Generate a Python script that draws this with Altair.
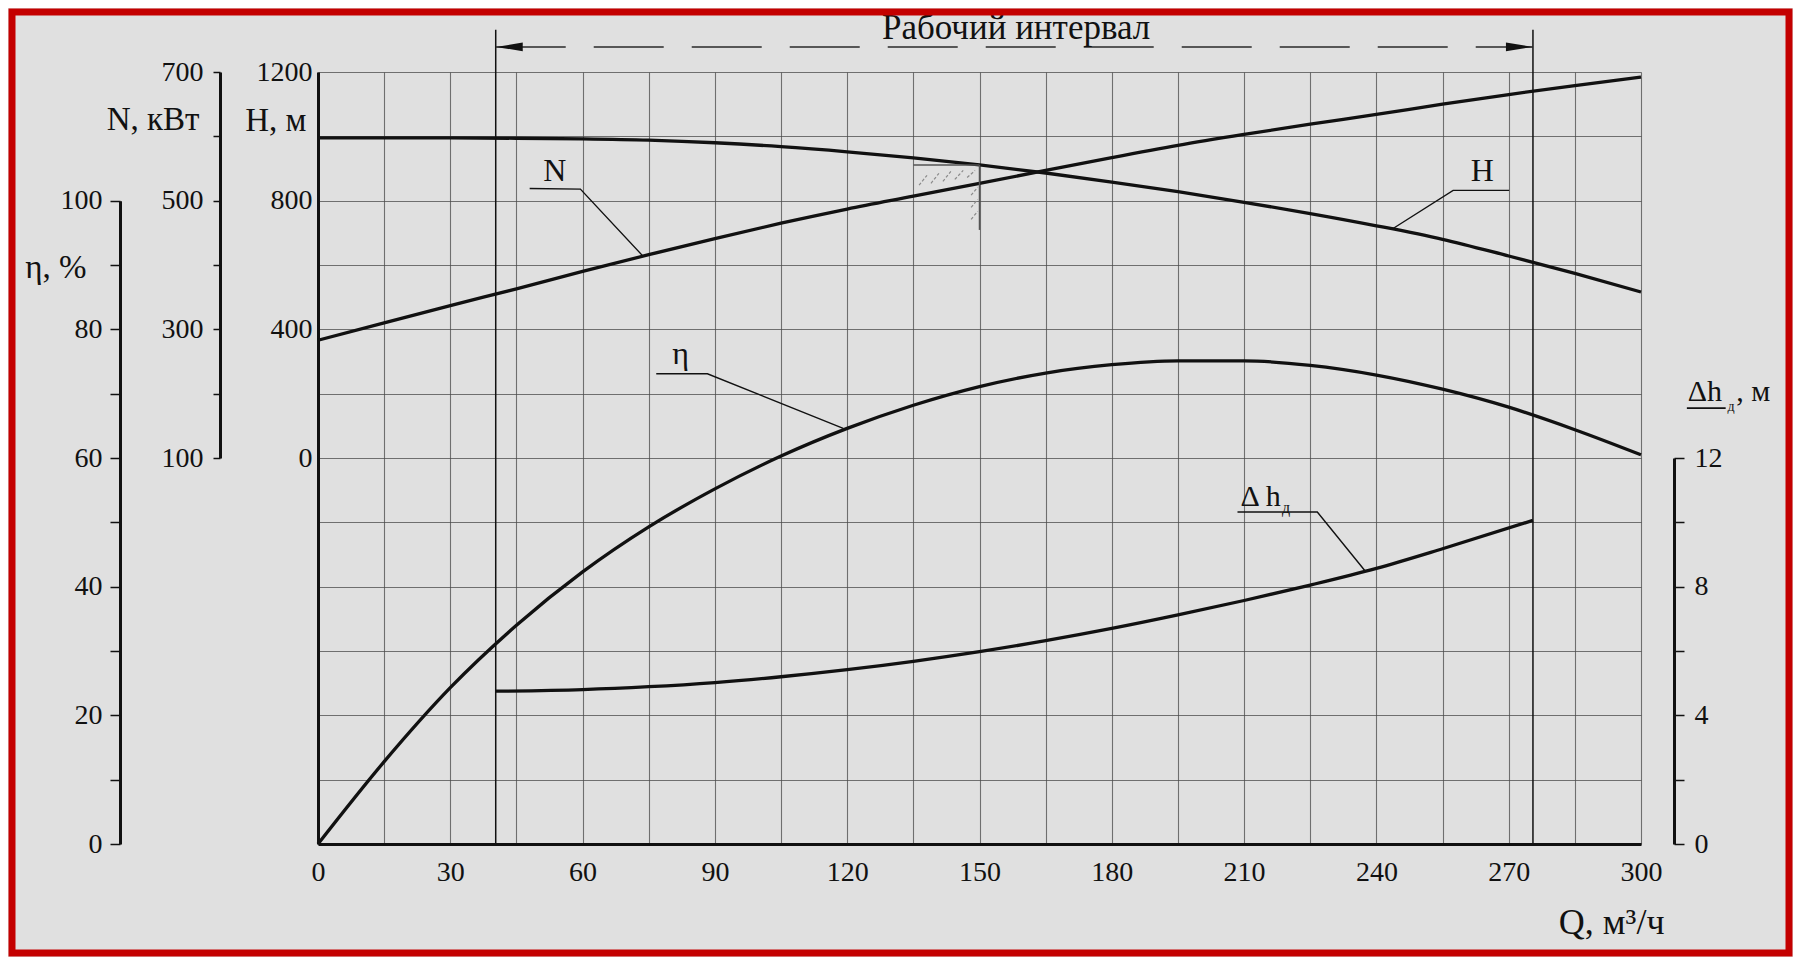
import altair as alt
import pandas as pd

# ---------------- data ----------------
Q = [0, 15, 30, 45, 60, 75, 90, 105, 120, 135, 150, 165, 180, 195, 210, 225, 240, 255, 270, 285, 300]
H_head = [995, 995, 995, 994, 992, 988, 980, 968, 952, 933, 911, 886, 858, 828, 795, 760, 722, 680, 628, 574, 516]
N_power = [283, 310, 337, 363, 390, 416, 441, 465, 487, 507, 527, 547, 567, 586, 603, 619, 634, 650, 665, 679, 692]
eta = [0, 12.8, 24.3, 34, 42.3, 49.3, 55.2, 60.3, 64.6, 68.2, 71.1, 73.2, 74.5, 75.1, 75.1, 74.4, 72.9, 70.7, 67.9, 64.4, 60.5]
Q_dh = [40.3, 60, 75, 90, 105, 120, 135, 150, 165, 180, 195, 210, 225, 240, 255, 275.5]
dh = [4.75, 4.80, 4.89, 5.02, 5.2, 5.42, 5.68, 5.98, 6.32, 6.7, 7.12, 7.57, 8.05, 8.57, 9.18, 10.06]

Q_ticks = list(range(0, 301, 15))
H_ticks = list(range(-1200, 1201, 200))
N_ticks = list(range(100, 701, 100))
eta_ticks = list(range(0, 101, 10))
dh_ticks = list(range(0, 13, 2))

work_Q = [40.3, 275.5]          # working interval limits
work_arrow_H = 1278
work_top_H = 1331
work_bot_H = -1200
work_title = "Рабочий интервал"
work_title_Q = 158.3
work_title_H = 1303

# leader lines (Q, value in the curve's own units)
lead_H_Q = [243.6, 257.4, 270.1]
lead_H_v = [712, 832, 832]
lead_N_Q = [48.0, 59.5, 73.6]
lead_N_v = [519, 518, 414.5]
lead_E_Q = [76.7, 88.3, 119.1]
lead_E_v = [73.1, 73.1, 64.6]
lead_D_Q = [208.5, 226.6, 237.5]
lead_D_v = [10.32, 10.32, 8.48]

# small hatched mark near Q = 150
hatch_h_Q = [135, 150]
hatch_h_H = 911
hatch_v_H = [911, 709]
hatch_q1 = [136.3, 139.0, 141.7, 144.4, 147.2, 148.1, 148.1, 148.1]
hatch_H1 = [848, 854, 860, 866, 872, 817, 779, 742]
hatch_q2 = [138.1, 140.8, 143.5, 146.3, 149.0, 149.6, 149.6, 149.6]
hatch_H2 = [879, 885, 891, 894, 894, 842, 804, 767]

FONT = "Liberation Serif"
INK = "#111111"
GRID = "#4a4a4a"

W, HGT = 1323, 772

xs = alt.Scale(domain=[0, 300], nice=False, zero=False)
sH = alt.Scale(domain=[-1200, 1200], range=[HGT, 0], nice=False, zero=False)
sN = alt.Scale(domain=[100, 700], range=[386, 0], nice=False, zero=False)
sE = alt.Scale(domain=[0, 100], range=[HGT, 128.67], nice=False, zero=False)
sD = alt.Scale(domain=[0, 12], range=[HGT, 386], nice=False, zero=False)

x_axis = alt.Axis(orient="bottom", values=Q_ticks,
                  labelExpr="datum.value % 30 == 0 ? datum.label : ''",
                  ticks=False, grid=True, gridColor=GRID, gridOpacity=0.75, gridWidth=1.1,
                  domain=True, domainColor=INK, domainWidth=3, labelPadding=14,
                  labelFlush=False, labelOverlap=False,
                  title="Q, м³/ч", titleX=1346, titleY=89, titleAlign="right",
                  titleBaseline="alphabetic", titleFontSize=36)

h_axis = alt.Axis(orient="left", values=H_ticks, format="d",
                  labelExpr="datum.value >= 0 && datum.value % 400 == 0 ? datum.label : ''",
                  ticks=False, grid=True, gridColor=GRID, gridOpacity=0.75, gridWidth=1.1,
                  domain=True, domainColor=INK, domainWidth=3, labelPadding=6,
                  labelFlush=False, labelOverlap=False,
                  title="H, м", titleAngle=0, titleX=-12, titleY=48, titleAlign="right",
                  titleBaseline="middle")

n_axis = alt.Axis(orient="left", offset=98, values=N_ticks, format="d",
                  labelExpr="(datum.value - 100) % 200 == 0 ? datum.label : ''",
                  ticks=True, tickSize=7, tickWidth=1.5, tickColor=INK, grid=False,
                  domain=True, domainColor=INK, domainWidth=3, labelPadding=10,
                  labelFlush=False, labelOverlap=False,
                  title="N, кВт", titleAngle=0, titleX=-21, titleY=47, titleAlign="right",
                  titleBaseline="middle")

e_axis = alt.Axis(orient="left", offset=198, values=eta_ticks, format="d",
                  labelExpr="datum.value % 20 == 0 ? datum.label : ''",
                  ticks=True, tickSize=10, tickWidth=1.5, tickColor=INK, grid=False,
                  domain=True, domainColor=INK, domainWidth=3, labelPadding=8,
                  labelFlush=False, labelOverlap=False,
                  title="η, %", titleAngle=0, titleX=-34, titleY=195, titleAlign="right",
                  titleBaseline="middle")

d_axis = alt.Axis(orient="right", offset=33, values=dh_ticks, format="d",
                  labelExpr="datum.value % 4 == 0 ? datum.label : ''",
                  ticks=True, tickSize=10, tickWidth=1.5, tickColor=INK, grid=False,
                  domain=True, domainColor=INK, domainWidth=3, labelPadding=10,
                  labelFlush=False, labelOverlap=False, title=" ")


def X(field="Q"):
    # every layer carries the same x axis so the shared axis merges cleanly
    return alt.X(f"{field}:Q", scale=xs, axis=x_axis)


def Y(scale, field="v", axis=None):
    return alt.Y(f"{field}:Q", scale=scale, axis=axis)


def curve(qs, vs, scale, axis):
    df = pd.DataFrame({"Q": qs, "v": vs})
    return alt.Chart(df).mark_line(color=INK, strokeWidth=3.3, interpolate="monotone").encode(
        x=X(), y=Y(scale, axis=axis))


def leader(qs, vs, scale):
    df = pd.DataFrame({"Q": qs, "v": vs, "i": list(range(len(qs)))})
    return alt.Chart(df).mark_line(color=INK, strokeWidth=1.4).encode(
        x=X(), y=Y(scale), order="i:Q")


def label(q, v, text, scale, size=32, align="center"):
    df = pd.DataFrame({"Q": [q], "v": [v], "t": [text]})
    return alt.Chart(df).mark_text(font=FONT, fontSize=size, color=INK, align=align,
                                   baseline="alphabetic").encode(x=X(), y=Y(scale), text="t:N")


frame = alt.Chart(alt.Data(values=[{"k": 1}])).mark_rect(
    fillOpacity=0, stroke="#c40000", strokeWidth=7).encode(
    x=alt.value(-306), x2=alt.value(1471), y=alt.value(-60), y2=alt.value(881))

work_df = pd.DataFrame({"Q": work_Q, "top": [work_top_H] * 2, "bot": [work_bot_H] * 2})
work_lines = alt.Chart(work_df).mark_rule(color=INK, strokeWidth=1.5).encode(
    x=X(), y=Y(sH, "top"), y2="bot:Q")

arrow_df = pd.DataFrame({"q1": [work_Q[0]], "q2": [work_Q[1]], "v": [work_arrow_H]})
arrow_line = alt.Chart(arrow_df).mark_rule(color="#2a2a2a", strokeWidth=1.5,
                                           strokeDash=[70, 28]).encode(
    x=X("q1"), x2="q2:Q", y=Y(sH))

headL = alt.Chart(pd.DataFrame({"Q": [work_Q[0]], "v": [work_arrow_H]})).mark_point(
    shape="M0,0L1,-0.16L1,0.16Z", filled=True, size=2916, color=INK, opacity=1,
    strokeWidth=0).encode(x=X(), y=Y(sH))
headR = alt.Chart(pd.DataFrame({"Q": [work_Q[1]], "v": [work_arrow_H]})).mark_point(
    shape="M0,0L-1,-0.16L-1,0.16Z", filled=True, size=2916, color=INK, opacity=1,
    strokeWidth=0).encode(x=X(), y=Y(sH))

hatch_df = pd.DataFrame({"q1": [hatch_h_Q[0]], "q2": [hatch_h_Q[1]], "v": [hatch_h_H]})
hatch_h = alt.Chart(hatch_df).mark_rule(color="#555555", strokeWidth=1.5).encode(
    x=X("q1"), x2="q2:Q", y=Y(sH))
hatch_vdf = pd.DataFrame({"Q": [hatch_h_Q[1]], "v1": [hatch_v_H[0]], "v2": [hatch_v_H[1]]})
hatch_v = alt.Chart(hatch_vdf).mark_rule(color="#555555", strokeWidth=1.5).encode(
    x=X(), y=Y(sH, "v1"), y2="v2:Q")
hatch_sdf = pd.DataFrame({"q1": hatch_q1, "q2": hatch_q2, "v1": hatch_H1, "v2": hatch_H2})
hatch_s = alt.Chart(hatch_sdf).mark_rule(color="#8a8a8a", strokeWidth=1.2,
                                         strokeDash=[3, 2]).encode(
    x=X("q1"), x2="q2:Q", y=Y(sH, "v1"), y2="v2:Q")

ul_df = pd.DataFrame({"q1": [310.4], "q2": [319.2], "v": [13.55]})
dh_underline = alt.Chart(ul_df).mark_rule(color=INK, strokeWidth=1.6).encode(
    x=X("q1"), x2="q2:Q", y=Y(sD))

chart = alt.layer(
    curve(Q, H_head, sH, h_axis),
    curve(Q, N_power, sN, n_axis),
    curve(Q, eta, sE, e_axis),
    curve(Q_dh, dh, sD, d_axis),
    work_lines, arrow_line, headL, headR, hatch_h, hatch_v, hatch_s,
    leader(lead_H_Q, lead_H_v, sH),
    label(264, 861, "H", sH),
    label(work_title_Q, work_title_H, work_title, sH, size=35),
    leader(lead_N_Q, lead_N_v, sN),
    label(53.7, 530.6, "N", sN),
    leader(lead_E_Q, lead_E_v, sE),
    label(82.2, 74.6, "η", sE),
    leader(lead_D_Q, lead_D_v, sD),
    label(209.2, 10.5, "Δ h", sD, size=30, align="left"),
    label(218.6, 10.3, "д", sD, size=16, align="left"),
    label(310.6, 13.77, "Δh", sD, size=30, align="left"),
    label(319.6, 13.45, "д", sD, size=14, align="left"),
    label(321.6, 13.77, ", м", sD, size=30, align="left"),
    dh_underline,
    frame,
).resolve_scale(
    y="independent"
).properties(
    width=W, height=HGT,
    autosize=alt.AutoSizeParams(type="none"),
    padding={"left": 310, "top": 64, "right": 152, "bottom": 113},
    background="#e0e0e0",
).configure_view(strokeWidth=0).configure_axis(
    labelFont=FONT, titleFont=FONT, labelColor=INK, titleColor=INK,
    labelFontSize=28, titleFontSize=33, titleFontWeight="normal",
)

chart.save("out.html", embed_options={"renderer": "svg", "actions": False})
